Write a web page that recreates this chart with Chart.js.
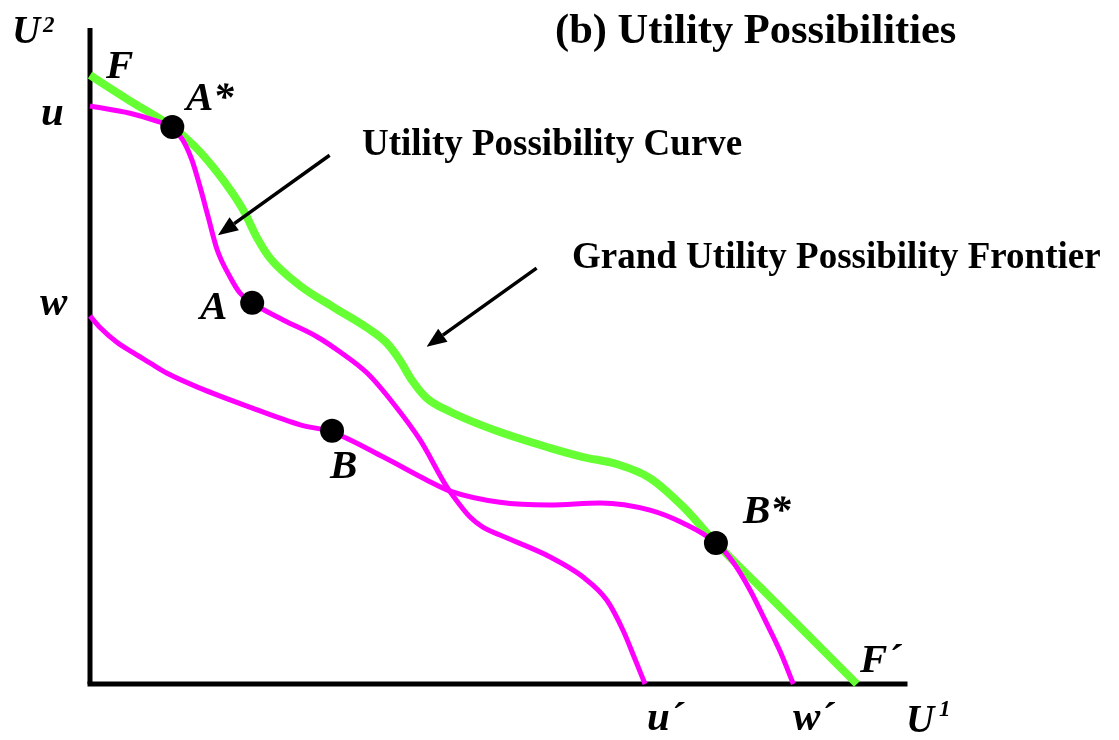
<!DOCTYPE html>
<html><head><meta charset="utf-8">
<script src="https://cdn.jsdelivr.net/npm/chart.js@4/dist/chart.umd.min.js"></script>
<style>html,body{margin:0;padding:0;background:#fff}#wrap{width:1119px;height:740px}</style>
</head><body><div id="wrap"><canvas id="c" width="1119" height="740"></canvas></div>
<script>
// Grand Utility Possibility Frontier F–F′
const frontierU1 = [0, 4.9, 10.1, 12.9, 15.1, 17.5, 19.0, 20.5, 22.1, 25.8, 29.8, 34.0, 36.4, 38.0, 39.5, 41.3, 44.2, 50.3, 56.4, 60.5, 64.7, 68.7, 72.8, 76.8, 82.2, 87.1, 94.1];
const frontierU2 = [92.8, 88.9, 84.9, 81.9, 78.8, 74.8, 71.8, 68.0, 64.9, 60.7, 57.5, 54.3, 52.0, 49.4, 46.3, 43.6, 41.5, 38.4, 36.0, 34.6, 33.5, 31.4, 27.0, 21.5, 14.8, 8.7, 0];
// Utility possibility curve u–u′
const curveUU1 = [0, 4.9, 8.2, 10.1, 11.4, 12.5, 13.5, 14.5, 15.6, 17.2, 18.4, 19.9, 23.7, 27.9, 30.7, 34.0, 37.2, 40.5, 43.8, 45.2, 46.6, 48.2, 50.3, 56.4, 60.5, 63.4, 65.4, 66.9, 68.1];
const curveUU2 = [88.1, 87.0, 85.8, 84.8, 82.9, 79.9, 75.8, 71.2, 66.2, 62.0, 59.6, 58.1, 55.5, 52.9, 50.6, 47.4, 42.8, 37.2, 30.0, 27.6, 25.5, 23.9, 22.7, 19.4, 16.3, 12.8, 8.2, 3.7, 0];
// Utility possibility curve w–w′
const curveWU1 = [0, 1.2, 3.3, 5.3, 7.4, 9.4, 13.5, 19.6, 25.8, 29.7, 36.0, 41.3, 44.2, 50.3, 56.4, 62.6, 68.7, 72.8, 76.8, 78.9, 81.0, 82.8, 84.7, 86.3];
const curveWU2 = [56.1, 54.4, 52.1, 50.5, 48.9, 47.4, 45.1, 42.2, 39.5, 38.4, 34.6, 31.1, 29.4, 27.7, 27.3, 27.6, 26.5, 24.5, 21.5, 18.6, 14.3, 9.8, 4.9, 0];
// Marked points
const pointNames = ['A*', 'A', 'B', 'B*'];
const pointU1 = [10.1, 19.9, 29.7, 76.8];
const pointU2 = [84.9, 58.1, 38.6, 21.5];
// Axis extent
const axisMax = 100;
// Arrows (from, to) in U1/U2 units
const arrowFromU1 = [29.4, 54.8];
const arrowFromU2 = [80.6, 63.4];
const arrowToU1 = [15.7, 41.3];
const arrowToU2 = [68.4, 51.4];

const zip = (xs, ys) => xs.map((x, i) => ({x: x, y: ys[i]}));

const SERIF = '"Liberation Serif","Times New Roman",serif';
const textItems = [
  {t: '(b) Utility Possibilities', x: 555, y: 43, f: 'bold 42.5px ' + SERIF},
  {t: 'Utility Possibility Curve', x: 362, y: 155, f: 'bold 37px ' + SERIF},
  {t: 'Grand Utility Possibility Frontier', x: 572, y: 268, f: 'bold 37px ' + SERIF},
  {t: 'U', x: 12, y: 43, f: 'italic bold 39px ' + SERIF},
  {t: '2', x: 43, y: 32, f: 'italic bold 23px ' + SERIF},
  {t: 'F', x: 106, y: 78, f: 'italic bold 41px ' + SERIF},
  {t: 'A*', x: 186, y: 110, f: 'italic bold 41px ' + SERIF},
  {t: 'u', x: 41, y: 125, f: 'italic bold 41px ' + SERIF},
  {t: 'w', x: 40, y: 315, f: 'italic bold 41px ' + SERIF},
  {t: 'A', x: 200, y: 319, f: 'italic bold 41px ' + SERIF},
  {t: 'B', x: 330, y: 478, f: 'italic bold 41px ' + SERIF},
  {t: 'B*', x: 743, y: 523, f: 'italic bold 41px ' + SERIF},
  {t: 'F\u00B4', x: 860, y: 672, f: 'italic bold 41px ' + SERIF},
  {t: 'u\u00B4', x: 647, y: 730, f: 'italic bold 41px ' + SERIF},
  {t: 'w\u00B4', x: 793, y: 730, f: 'italic bold 41px ' + SERIF},
  {t: 'U', x: 906, y: 732, f: 'italic bold 39px ' + SERIF},
  {t: '1', x: 939, y: 716, f: 'italic bold 23px ' + SERIF}
];

const annotate = {
  id: 'annotate',
  afterDraw(chart) {
    const ctx = chart.ctx, xs = chart.scales.x, ys = chart.scales.y;
    ctx.save();
    ctx.strokeStyle = '#000'; ctx.fillStyle = '#000'; ctx.lineWidth = 3.5; ctx.lineCap = 'butt';
    for (let i = 0; i < arrowFromU1.length; i++) {
      const x1 = xs.getPixelForValue(arrowFromU1[i]), y1 = ys.getPixelForValue(arrowFromU2[i]);
      const x2 = xs.getPixelForValue(arrowToU1[i]), y2 = ys.getPixelForValue(arrowToU2[i]);
      const a = Math.atan2(y2 - y1, x2 - x1), L = 20, W = 8;
      const bx = x2 - L * Math.cos(a), by = y2 - L * Math.sin(a);
      ctx.beginPath(); ctx.moveTo(x1, y1); ctx.lineTo(bx, by); ctx.stroke();
      ctx.beginPath(); ctx.moveTo(x2, y2);
      ctx.lineTo(bx + W * Math.sin(a), by - W * Math.cos(a));
      ctx.lineTo(bx - W * Math.sin(a), by + W * Math.cos(a));
      ctx.closePath(); ctx.fill();
    }
    ctx.textBaseline = 'alphabetic'; ctx.textAlign = 'left';
    textItems.forEach(it => { ctx.font = it.f; ctx.fillText(it.t, it.x, it.y); });
    ctx.restore();
  }
};

const curveStyle = {showLine: true, pointRadius: 0, cubicInterpolationMode: 'monotone',
  borderJoinStyle: 'round', borderCapStyle: 'butt', clip: false};

new Chart(document.getElementById('c'), {
  type: 'scatter',
  data: {
    datasets: [
      {label: pointNames.join(', '), data: zip(pointU1, pointU2), pointRadius: 12, pointHoverRadius: 12,
       backgroundColor: '#000', borderColor: '#000', borderWidth: 0, order: 0, clip: false},
      Object.assign({label: 'u', data: zip(curveUU1, curveUU2), borderColor: '#FF00FF', borderWidth: 5, order: 1}, curveStyle),
      Object.assign({label: 'w', data: zip(curveWU1, curveWU2), borderColor: '#FF00FF', borderWidth: 5, order: 1}, curveStyle),
      Object.assign({label: 'F', data: zip(frontierU1, frontierU2), borderColor: '#66FF33', borderWidth: 8, order: 2}, curveStyle),
      {label: 'U2 axis', data: [{x: 0, y: 0}, {x: 0, y: axisMax}], showLine: true, borderColor: '#000', borderWidth: 5,
       pointRadius: 0, order: 3, clip: false},
      {label: 'U1 axis', data: [{x: 0, y: 0}, {x: axisMax, y: 0}], showLine: true, borderColor: '#000', borderWidth: 5,
       pointRadius: 0, order: 3, clip: false, borderCapStyle: 'square'}
    ]
  },
  options: {
    responsive: false, animation: false, devicePixelRatio: 1,
    layout: {padding: {left: 90, right: 214, top: 28, bottom: 56}},
    scales: {
      x: {type: 'linear', min: 0, max: axisMax, display: false},
      y: {type: 'linear', min: 0, max: axisMax, display: false}
    },
    plugins: {legend: {display: false}, tooltip: {enabled: false}}
  },
  plugins: [annotate]
});
</script></body></html>
